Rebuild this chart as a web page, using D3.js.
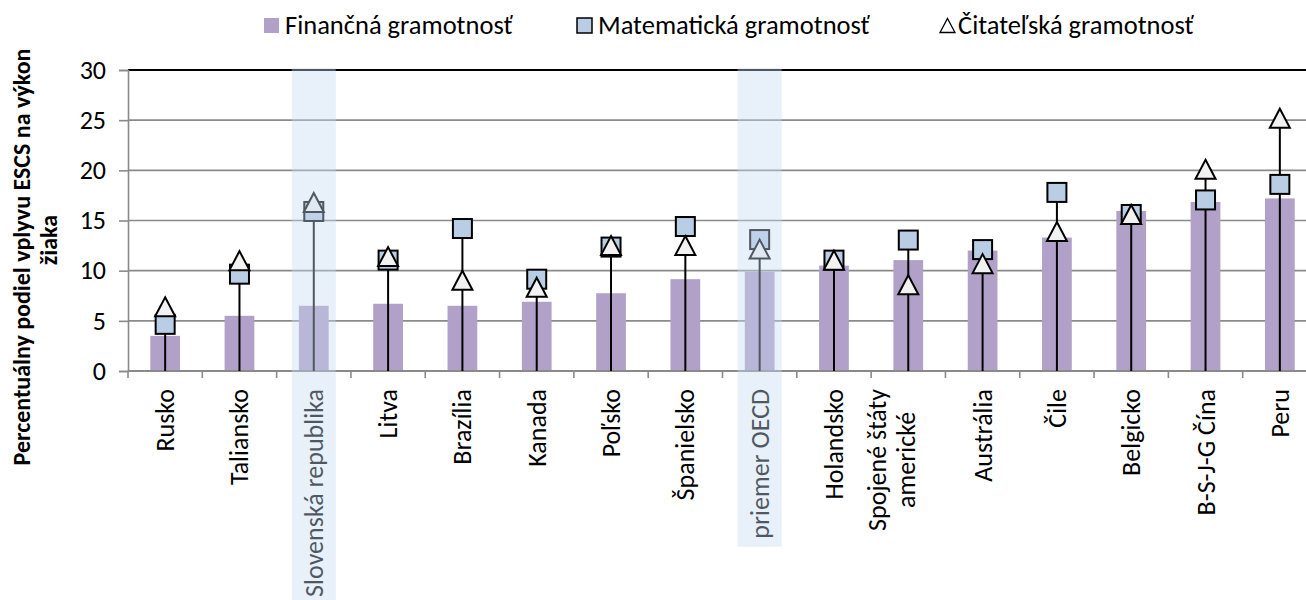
<!DOCTYPE html>
<html>
<head>
<meta charset="utf-8">
<script src="https://cdn.jsdelivr.net/npm/d3@7"></script>
<style>
  html, body { margin: 0; padding: 0; background: #fff; }
  svg { display: block; }
  text { font-family: Carlito, Calibri, Lato, "Liberation Sans", sans-serif; }
</style>
</head>
<body>
<svg id="chart" width="1306" height="600"></svg>
<script>
const categories = ["Rusko", "Taliansko", "Slovenská republika", "Litva", "Brazília", "Kanada", "Poľsko", "Španielsko", "priemer OECD", "Holandsko", "Spojené štáty\namerické", "Austrália", "Čile", "Belgicko", "B-S-J-G Čína", "Peru"];
const financial = [3.5, 5.5, 6.5, 6.7, 6.5, 6.9, 7.75, 9.15, 9.9, 10.5, 11.05, 12.0, 13.3, 15.95, 16.85, 17.2];
const math = [4.65, 9.65, 15.9, 11.05, 14.2, 9.15, 12.35, 14.4, 13.1, 11.05, 13.05, 12.1, 17.8, 15.6, 17.05, 18.6];
const reading = [6.4, 11.0, 16.8, 11.4, 9.05, 8.35, 12.5, 12.5, 12.15, 11.05, 8.6, 10.7, 13.9, 15.6, 20.1, 25.2];
const highlighted = ["Slovenská republika", "priemer OECD"];
const yTicks = [0, 5, 10, 15, 20, 25, 30];
const seriesNames = ["Finančná gramotnosť", "Matematická gramotnosť", "Čitateľská gramotnosť"];
const yTitleLines = ["Percentuálny podiel vplyvu ESCS na výkon", "žiaka"];

const svg = d3.select("#chart");
const x = d3.scaleBand().domain(categories).range([128, 1317]).padding(0);
const y = d3.scaleLinear().domain([0, 30]).range([371, 70]);
const cx = c => x(c) + x.bandwidth() / 2;

const data = categories.map((c, i) => ({c, f: financial[i], m: math[i], r: reading[i]}));

// gridlines
svg.append("g").selectAll("line").data(yTicks.filter(t => t > 0)).join("line")
  .attr("x1", 128).attr("x2", 1306)
  .attr("y1", d => y(d)).attr("y2", d => y(d))
  .attr("stroke", d => d === 30 ? "#000" : "#8a8a8a")
  .attr("stroke-width", d => d === 30 ? 2 : 1.6);

// y axis
const yAxis = svg.append("g").attr("transform", "translate(128,0)")
  .call(d3.axisLeft(y).tickValues(yTicks).tickSize(9).tickPadding(13));
yAxis.select(".domain").attr("stroke", "#8a8a8a").attr("stroke-width", 1.6);
yAxis.selectAll(".tick line").attr("stroke", "#8a8a8a").attr("stroke-width", 1.6);
yAxis.selectAll(".tick text").attr("font-size", 26).attr("fill", "#000")
  .style("font-family", "Carlito, Calibri, Lato, sans-serif");

// bars
svg.append("g").selectAll("rect").data(data).join("rect")
  .attr("x", d => cx(d.c) - x.bandwidth() * 0.2)
  .attr("width", x.bandwidth() * 0.4)
  .attr("y", d => y(d.f))
  .attr("height", d => y(0) - y(d.f))
  .attr("fill", "#b1a0c7");

// x axis line + ticks at category boundaries
svg.append("line").attr("x1", 128).attr("x2", 1306).attr("y1", y(0)).attr("y2", y(0))
  .attr("stroke", "#8a8a8a").attr("stroke-width", 2);
svg.append("g").selectAll("line").data(categories).join("line")
  .attr("x1", d => x(d)).attr("x2", d => x(d))
  .attr("y1", y(0)).attr("y2", y(0) + 7)
  .attr("stroke", "#8a8a8a").attr("stroke-width", 1.6);

// stems
svg.append("g").selectAll("line").data(data).join("line")
  .attr("x1", d => cx(d.c)).attr("x2", d => cx(d.c))
  .attr("y1", y(0)).attr("y2", d => y(Math.max(d.m, d.r)))
  .attr("stroke", "#000").attr("stroke-width", 2);

// squares
const sq = 19;
svg.append("g").selectAll("rect").data(data).join("rect")
  .attr("x", d => cx(d.c) - sq / 2).attr("y", d => y(d.m) - sq / 2)
  .attr("width", sq).attr("height", sq)
  .attr("fill", "#b9cde5").attr("stroke", "#000").attr("stroke-width", 2);

// triangles
const tw = 20, th = 19;
const triPath = (px, py, w, h) => `M${px},${py - h / 2}L${px + w / 2},${py + h / 2}L${px - w / 2},${py + h / 2}Z`;
svg.append("g").selectAll("path").data(data).join("path")
  .attr("d", d => triPath(cx(d.c), y(d.r), tw, th))
  .attr("fill", "#f2f2f2").attr("stroke", "#000").attr("stroke-width", 2).attr("stroke-linejoin", "miter");

// x labels
const labelTop = 389;
const lfs = 26;
const labelEnds = {};
const lblG = svg.append("g");
categories.forEach(c => {
  const lines = c.split("\n");
  if (lines.length === 1) {
    const t = lblG.append("text")
      .attr("transform", `translate(${cx(c) + 9},${labelTop}) rotate(-90)`)
      .attr("text-anchor", "end").attr("font-size", lfs).attr("fill", "#000").text(c);
    labelEnds[c] = labelTop + t.node().getComputedTextLength();
  } else {
    const t1 = lblG.append("text")
      .attr("transform", `translate(${cx(c) - 22},${labelTop}) rotate(-90)`)
      .attr("text-anchor", "end").attr("font-size", lfs).attr("fill", "#000").text(lines[0]);
    const len = t1.node().getComputedTextLength();
    lblG.append("text")
      .attr("transform", `translate(${cx(c) + 7},${labelTop + len / 2}) rotate(-90)`)
      .attr("text-anchor", "middle").attr("font-size", lfs).attr("fill", "#000").text(lines[1]);
    labelEnds[c] = labelTop + len;
  }
});

// highlight overlay
svg.append("g").selectAll("rect").data(highlighted).join("rect")
  .attr("x", d => cx(d) - 22).attr("width", 44)
  .attr("y", 68).attr("height", d => labelEnds[d] + 8 - 68)
  .attr("fill", "#c6d9f1").attr("opacity", 0.4);

// y title
svg.append("text")
  .attr("transform", "translate(30,257) rotate(-90)")
  .attr("text-anchor", "middle").attr("font-size", 24).attr("font-weight", "bold")
  .attr("fill", "#000").text(yTitleLines[0]);
svg.append("text")
  .attr("transform", "translate(57,240) rotate(-90)")
  .attr("text-anchor", "middle").attr("font-size", 24).attr("font-weight", "bold")
  .attr("fill", "#000").text(yTitleLines[1]);

// legend
const lg = svg.append("g");
const lfsz = 26.5;
lg.append("rect").attr("x", 264).attr("y", 18).attr("width", 15).attr("height", 15).attr("fill", "#b1a0c7");
lg.append("text").attr("x", 285).attr("y", 34).attr("font-size", lfsz).attr("fill", "#000").text(seriesNames[0]);
lg.append("rect").attr("x", 577).attr("y", 18).attr("width", 15).attr("height", 15)
  .attr("fill", "#b9cde5").attr("stroke", "#000").attr("stroke-width", 1.5);
lg.append("text").attr("x", 598).attr("y", 34).attr("font-size", lfsz).attr("fill", "#000").text(seriesNames[1]);
lg.append("path").attr("d", triPath(947.5, 25.5, 15, 14)).attr("fill", "#fff").attr("stroke", "#000").attr("stroke-width", 1.3);
lg.append("text").attr("x", 958).attr("y", 34).attr("font-size", lfsz).attr("fill", "#000").text(seriesNames[2]);
</script>
</body>
</html>
